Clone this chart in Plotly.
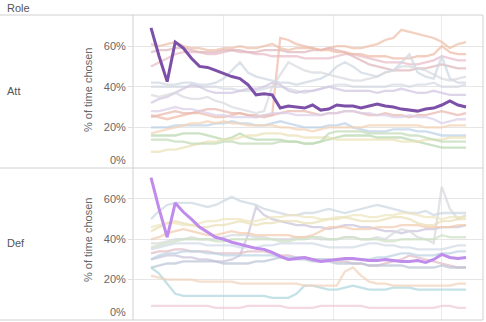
import plotly.graph_objects as go

# ---------------- data ----------------
periods = list(range(40))
grid_positions = [9.03, 22.65, 35.9]
y_tick_values = [20, 40, 60]
y_tick_labels = ["20%", "40%", "60%"]
roles = ["Att", "Def"]

att_highlight = [69, 55, 42.5, 62, 59, 54, 50, 49.5, 48, 46.5, 45, 44, 41, 36, 36.5, 36, 29.5, 30.5, 30, 29.5,
                 31, 28.5, 29, 31, 30.5, 30.5, 29.5, 30.5, 31.5, 30.5, 30, 29, 28.5, 28, 29, 29.5, 31, 33, 31, 30]
def_highlight = [70.5, 55, 41, 58, 53.5, 50, 46, 43.5, 41, 40, 38.5, 37.5, 36.5, 35.5, 35, 33.5, 31.5, 30, 30.5, 31,
                 30, 29, 29.5, 30, 30.5, 30.5, 30, 29.5, 29.5, 30, 29.5, 29, 29, 29.5, 28.5, 30, 32.5, 31, 30.5, 31]

att_s01 = [61, 60, 61, 62, 60, 59, 59, 58, 58, 59, 59, 60, 59, 59, 60, 61, 59, 58, 59, 59,
           59, 58, 59, 60, 60, 59, 59, 60, 61, 63, 64, 68, 67, 66, 65, 64, 62, 59, 61, 62]
att_s02 = [50, 52, 54, 56, 57, 57, 57, 56, 56, 57, 58, 57, 57, 56, 56, 55, 55, 55, 55, 54,
           54, 54, 54, 55, 56, 56, 55, 54, 53, 52, 52, 52, 51, 51, 52, 53, 55, 54, 53, 53]
att_s03 = [57, 58, 58, 59, 59, 58, 57, 57, 57, 58, 58, 58, 57, 57, 58, 58, 58, 57, 57, 57,
           58, 58, 59, 58, 57, 55, 53, 51, 50, 49, 48, 48, 48, 49, 49, 50, 51, 50, 49, 49]
att_s04 = [26, 25, 24, 25, 26, 27, 27, 26, 25, 25, 26, 27, 26, 25, 26, 26, 64, 63, 61, 60,
           59, 58, 58, 57, 57, 56, 56, 55, 55, 55, 54, 54, 54, 55, 55, 56, 60, 57, 56, 56]
att_s05 = [42, 42, 41, 41, 42, 42, 41, 41, 42, 44, 48, 52, 47, 45, 44, 43, 42, 42, 41, 42,
           43, 44, 46, 50, 52, 50, 47, 46, 45, 47, 48, 52, 56, 47, 45, 44, 55, 44, 42, 42]
att_s06 = [40, 40, 40, 40, 40, 40, 40, 40, 40, 39, 39, 38, 38, 38, 39, 40, 40, 39, 38, 37,
           38, 39, 40, 41, 41, 40, 40, 40, 40, 40, 41, 41, 40, 41, 41, 42, 40, 40, 40, 41]
att_s07 = [32, 34, 35, 37, 39, 41, 40, 38, 37, 37, 37, 38, 39, 39, 40, 42, 41, 38, 37, 38,
           38, 39, 40, 39, 38, 38, 38, 38, 37, 38, 38, 39, 38, 37, 37, 38, 37, 36, 36, 36]
att_s08 = [36, 35, 36, 37, 35, 34, 34, 35, 33, 32, 30, 29, 28, 27, 28, 40, 46, 52, 50, 48,
           47, 47, 46, 45, 44, 43, 43, 44, 45, 47, 48, 50, 50, 49, 48, 46, 44, 43, 44, 45]
att_s09 = [25, 26, 27, 28, 27, 27, 28, 29, 29, 28, 27, 27, 26, 26, 25, 26, 27, 28, 28, 28,
           27, 26, 27, 27, 28, 28, 27, 26, 26, 27, 26, 26, 25, 26, 26, 27, 28, 27, 26, 27]
att_s10 = [28, 28, 29, 30, 29, 29, 28, 27, 26, 26, 25, 25, 25, 25, 26, 27, 27, 27, 26, 26,
           26, 26, 27, 27, 28, 28, 27, 27, 26, 26, 25, 25, 26, 25, 25, 24, 22, 23, 24, 24]
att_s11 = [20, 20, 20, 21, 21, 21, 21, 21, 22, 22, 23, 22, 22, 21, 21, 22, 23, 22, 21, 20,
           20, 20, 21, 21, 22, 20, 19, 18, 18, 18, 19, 19, 19, 18, 18, 17, 16, 16, 16, 16]
att_s12 = [16, 16, 16, 16, 17, 17, 17, 16, 15, 14, 15, 17, 15, 14, 14, 14, 14, 13, 13, 12,
           12, 13, 14, 15, 16, 16, 16, 16, 15, 15, 15, 15, 14, 13, 12, 11, 10, 10, 10, 10]
att_s13 = [8, 8, 9, 9, 10, 11, 12, 13, 13, 14, 14, 15, 16, 16, 17, 17, 17, 16, 16, 15,
           15, 15, 15, 14, 14, 14, 14, 14, 14, 14, 14, 13, 13, 13, 14, 14, 14, 15, 15, 15]
att_s14 = [14, 14, 14, 13, 13, 12, 12, 12, 12, 13, 13, 12, 12, 12, 12, 12, 13, 13, 13, 12,
           12, 13, 17, 18, 18, 18, 18, 17, 17, 17, 17, 17, 16, 16, 15, 14, 13, 13, 13, 13]
att_s15 = [17, 18, 19, 20, 21, 22, 22, 23, 22, 23, 22, 22, 21, 21, 21, 21, 20, 20, 19, 19,
           18, 19, 20, 20, 20, 20, 20, 21, 21, 21, 21, 21, 21, 21, 20, 20, 20, 21, 21, 21]

def_s01 = [50, 54, 57, 58, 58, 58, 57, 56, 57, 59, 61, 59, 58, 57, 55, 54, 53, 52, 52, 53,
           53, 54, 55, 54, 53, 54, 55, 56, 57, 56, 55, 54, 53, 53, 54, 52, 53, 53, 53, 53]
def_s02 = [30, 31, 32, 32, 31, 31, 30, 30, 29, 29, 30, 32, 42, 56, 52, 50, 49, 48, 47, 47,
           46, 46, 45, 46, 47, 47, 46, 46, 45, 44, 44, 43, 44, 44, 45, 45, 46, 46, 46, 47]
def_s03 = [38, 38, 39, 40, 40, 41, 40, 40, 40, 41, 42, 42, 42, 41, 41, 40, 40, 40, 41, 41,
           41, 40, 40, 40, 41, 41, 40, 40, 41, 40, 43, 45, 44, 41, 40, 38, 66, 55, 50, 52]
def_s04 = [44, 46, 48, 49, 48, 47, 46, 46, 47, 47, 48, 49, 48, 47, 48, 48, 49, 49, 49, 48,
           48, 49, 50, 50, 51, 50, 49, 49, 49, 50, 51, 51, 50, 48, 47, 47, 49, 49, 50, 50]
def_s05 = [40, 41, 43, 44, 45, 44, 43, 42, 42, 43, 44, 43, 43, 42, 42, 42, 42, 42, 41, 41,
           42, 44, 46, 46, 46, 45, 45, 45, 46, 46, 46, 47, 47, 47, 46, 46, 46, 46, 47, 47]
def_s06 = [36, 37, 38, 39, 40, 40, 40, 40, 39, 39, 40, 40, 40, 40, 40, 40, 39, 39, 40, 40,
           41, 41, 40, 40, 41, 41, 40, 40, 40, 39, 39, 40, 40, 40, 40, 40, 42, 41, 41, 41]
def_s07 = [35, 36, 37, 38, 38, 38, 38, 37, 37, 37, 37, 36, 36, 36, 37, 37, 38, 38, 38, 38,
           38, 37, 36, 36, 36, 36, 37, 38, 38, 37, 37, 36, 36, 35, 35, 35, 35, 36, 37, 37]
def_s08 = [33, 34, 34, 35, 35, 34, 34, 34, 33, 33, 33, 33, 34, 34, 34, 33, 32, 32, 31, 31,
           30, 30, 30, 29, 29, 28, 28, 27, 27, 28, 29, 30, 32, 31, 30, 29, 28, 27, 26, 26]
def_s09 = [26, 27, 28, 28, 29, 29, 29, 29, 29, 28, 28, 28, 28, 29, 29, 30, 31, 30, 30, 30,
           29, 29, 29, 28, 28, 28, 28, 27, 27, 27, 27, 27, 26, 26, 26, 26, 27, 26, 26, 26]
def_s10 = [30, 32, 33, 33, 34, 34, 34, 33, 33, 32, 32, 32, 32, 32, 32, 32, 31, 31, 31, 31,
           30, 30, 30, 30, 30, 30, 30, 30, 31, 31, 32, 33, 33, 32, 32, 32, 33, 33, 34, 34]
def_s11 = [26, 23, 18, 13, 12, 12, 12, 12, 12, 12, 12, 12, 12, 12, 12, 11, 11, 11, 13, 17,
           17, 16, 15, 15, 16, 17, 16, 15, 15, 15, 16, 16, 16, 15, 15, 15, 15, 15, 15, 15]
def_s12 = [22, 21, 20, 20, 20, 20, 19, 19, 19, 19, 19, 18, 18, 18, 18, 18, 18, 18, 18, 17,
           17, 17, 17, 17, 24, 26, 22, 19, 18, 18, 17, 17, 17, 17, 17, 17, 17, 17, 18, 18]
def_s13 = [7, 7, 7, 7, 7, 7, 7, 7, 6, 6, 6, 6, 7, 7, 7, 7, 7, 6, 6, 6,
           6, 7, 7, 7, 7, 7, 7, 6, 6, 6, 6, 6, 6, 6, 6, 6, 7, 7, 6, 6]
def_s14 = [46, 47, 48, 48, 47, 47, 48, 49, 49, 50, 50, 50, 49, 49, 50, 51, 51, 52, 52, 51,
           51, 50, 50, 51, 51, 52, 52, 51, 51, 52, 52, 53, 53, 52, 51, 51, 50, 51, 51, 51]

att_faint = [att_s01, att_s02, att_s03, att_s04, att_s05, att_s06, att_s07, att_s08,
             att_s09, att_s10, att_s11, att_s12, att_s13, att_s14, att_s15]
def_faint = [def_s01, def_s02, def_s03, def_s04, def_s05, def_s06, def_s07, def_s08,
             def_s09, def_s10, def_s11, def_s12, def_s13, def_s14]

# ---------------- styles ----------------
att_colors = ["#efc0aa", "#e9bcc8", "#dfb8bc", "#efbca8", "#cfd8e3", "#d6dce4", "#d2c6e2", "#d8dade",
              "#e8b8b0", "#dcd0ea", "#bcd2e8", "#b8d8b0", "#ebe2b6", "#c2dcb8", "#f4d2b4"]
def_colors = ["#ccd8e2", "#cbc3dd", "#d6d9de", "#ebe0b6", "#f3cdb0", "#cfe3c6", "#d2dbe8", "#e2bcc6",
              "#bcc5d8", "#bcd3e4", "#aed8de", "#f1d3bc", "#efcbd6", "#eee6c0"]
att_hl_color = "#7d50a8"
def_hl_color = "#c08cec"

W, H = 486, 322
x0p, x1p = 133 / W, 483 / W
hdr = 1 - 15 / H
mid = 1 - 168 / H
bot = 1 - 320 / H
font_family = "Liberation Sans, Arial, sans-serif"

fig = go.Figure()
for series, col in zip(att_faint, att_colors):
    fig.add_trace(go.Scatter(x=periods, y=series, mode="lines", xaxis="x", yaxis="y",
                             line=dict(color=col, width=2.3), opacity=0.72, hoverinfo="skip"))
fig.add_trace(go.Scatter(x=periods, y=att_highlight, mode="lines", xaxis="x", yaxis="y",
                         line=dict(color=att_hl_color, width=3), hoverinfo="skip"))
for series, col in zip(def_faint, def_colors):
    fig.add_trace(go.Scatter(x=periods, y=series, mode="lines", xaxis="x2", yaxis="y2",
                             line=dict(color=col, width=2.3), opacity=0.72, hoverinfo="skip"))
fig.add_trace(go.Scatter(x=periods, y=def_highlight, mode="lines", xaxis="x2", yaxis="y2",
                         line=dict(color=def_hl_color, width=3), hoverinfo="skip"))

xcommon = dict(range=[-2.23, 41.1], domain=[x0p, x1p], tickvals=grid_positions, showticklabels=False,
               showgrid=True, gridcolor="#ebebeb", gridwidth=1, zeroline=False, showline=False, ticks="")
ycommon = dict(range=[0, 75.3], tickvals=y_tick_values, ticktext=y_tick_labels, showgrid=True,
               gridcolor="#e6e6e6", gridwidth=1, zeroline=False, showline=False, ticks="outside",
               ticklen=4, tickcolor="#dedede", tickfont=dict(size=11, color="#666666", family=font_family))

fig.update_layout(
    width=W, height=H, margin=dict(l=0, r=0, t=0, b=0),
    paper_bgcolor="white", plot_bgcolor="white", showlegend=False,
    font=dict(family=font_family, size=11, color="#555555"),
    xaxis=dict(anchor="y", **xcommon),
    xaxis2=dict(anchor="y2", matches="x", **xcommon),
    yaxis=dict(anchor="x", domain=[mid, hdr], **ycommon),
    yaxis2=dict(anchor="x2", domain=[bot, mid], **ycommon),
)

line_col = "#d0d0d0"
shapes = [
    dict(type="line", xref="paper", yref="paper", x0=0, x1=x1p, y0=hdr, y1=hdr),
    dict(type="line", xref="paper", yref="paper", x0=0, x1=x1p, y0=mid, y1=mid),
    dict(type="line", xref="paper", yref="paper", x0=0, x1=x1p, y0=bot, y1=bot),
    dict(type="line", xref="paper", yref="paper", x0=x0p, x1=x0p, y0=bot, y1=hdr),
    dict(type="line", xref="paper", yref="paper", x0=x1p, x1=x1p, y0=bot, y1=hdr),
]
for s in shapes:
    s["line"] = dict(color=line_col, width=1)
fig.update_layout(shapes=shapes)

ann = [
    dict(text="Role", x=5 / W, y=1 - 8 / H, xref="paper", yref="paper", xanchor="left", yanchor="middle",
         showarrow=False, font=dict(size=11, color="#555555")),
    dict(text=roles[0], x=5 / W, y=1 - 91 / H, xref="paper", yref="paper", xanchor="left", yanchor="middle",
         showarrow=False, font=dict(size=11, color="#555555")),
    dict(text=roles[1], x=5 / W, y=1 - 243 / H, xref="paper", yref="paper", xanchor="left", yanchor="middle",
         showarrow=False, font=dict(size=11, color="#555555")),
    dict(text="% of time chosen", x=88 / W, y=1 - 90 / H, xref="paper", yref="paper", textangle=-90,
         xanchor="center", yanchor="middle", showarrow=False, font=dict(size=11, color="#666666")),
    dict(text="% of time chosen", x=88 / W, y=1 - 240 / H, xref="paper", yref="paper", textangle=-90,
         xanchor="center", yanchor="middle", showarrow=False, font=dict(size=11, color="#666666")),
    dict(text="0%", x=128 / W, y=0, xref="paper", yref="y", xanchor="right", yanchor="bottom",
         showarrow=False, font=dict(size=11, color="#666666")),
    dict(text="0%", x=128 / W, y=0, xref="paper", yref="y2", xanchor="right", yanchor="bottom",
         showarrow=False, font=dict(size=11, color="#666666")),
]
fig.update_layout(annotations=ann)

fig.write_html("out.html")
